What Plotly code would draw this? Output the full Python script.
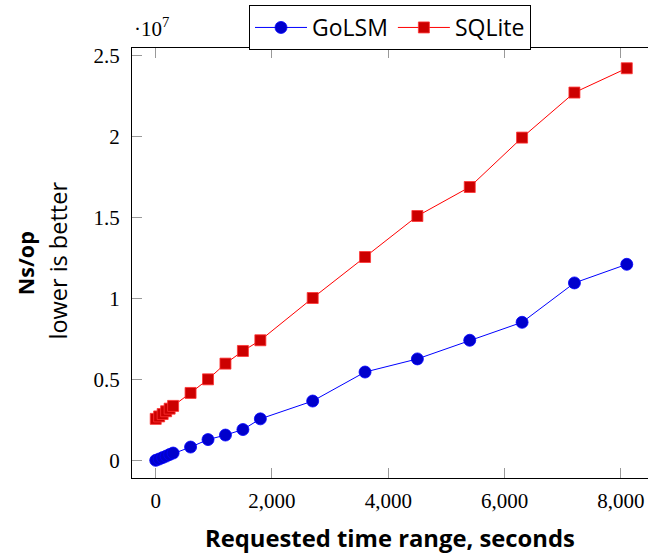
import plotly.graph_objects as go

# Requested time range (seconds)
x_seconds = [1, 60, 120, 180, 240, 300, 600, 900, 1200, 1500, 1800, 2700, 3600, 4500, 5400, 6300, 7200, 8100]

# Ns/op
golsm_ns = [40000, 120000, 210000, 300000, 400000, 490000, 860000, 1320000, 1600000, 1940000, 2600000,
            3700000, 5490000, 6300000, 7450000, 8560000, 10990000, 12140000]
sqlite_ns = [2600000, 2750000, 2900000, 3070000, 3230000, 3400000, 4200000, 5040000, 6010000, 6790000, 7450000,
             10060000, 12590000, 15120000, 16910000, 19960000, 22740000, 24240000]

x_tickvals = [0, 2000, 4000, 6000, 8000]
x_ticktext = ["0", "2,000", "4,000", "6,000", "8,000"]
y_tickvals = [0, 5e6, 1e7, 1.5e7, 2e7, 2.5e7]
y_ticktext = ["0", "0.5", "1", "1.5", "2", "2.5"]

SERIF = "Liberation Serif"
SANS = "Open Sans"

fig = go.Figure()
fig.add_trace(go.Scatter(
    x=x_seconds, y=golsm_ns, name="GoLSM", mode="lines+markers",
    line=dict(color="#0000ff", width=1),
    marker=dict(symbol="circle", size=12, color="#0000cc", line=dict(color="#0000ff", width=0.8)),
))
fig.add_trace(go.Scatter(
    x=x_seconds, y=sqlite_ns, name="SQLite", mode="lines+markers",
    line=dict(color="#ff0000", width=1),
    marker=dict(symbol="square", size=11, color="#cc0000", line=dict(color="#ff3333", width=0.8)),
))

xr = [-407, 8465]
yr = [-1.05e6, 2.549e7]

fig.update_layout(
    width=648, height=556,
    margin=dict(l=132, r=0, t=48, b=78, autoexpand=False),
    plot_bgcolor="white", paper_bgcolor="white",
    showlegend=True,
    legend=dict(
        orientation="h", x=0.5, xanchor="center", y=1.1, yanchor="top",
        bgcolor="white", bordercolor="black", borderwidth=1,
        font=dict(family=SANS, size=23, color="black"),
        itemwidth=52, tracegroupgap=0,
    ),
    xaxis=dict(
        range=xr, tickvals=x_tickvals, ticktext=x_ticktext, automargin=False,
        showgrid=False, zeroline=False,
        showline=True, linecolor="black", linewidth=1, mirror="ticks",
        ticks="inside", ticklen=10, tickcolor="#999999", tickwidth=1,
        tickfont=dict(family=SERIF, size=21, color="black"),
        ticklabelstandoff=4,
    ),
    yaxis=dict(
        range=yr, tickvals=y_tickvals, ticktext=y_ticktext, automargin=False,
        showgrid=False, zeroline=False,
        showline=True, linecolor="black", linewidth=1, mirror=False,
        ticks="inside", ticklen=10, tickcolor="#999999", tickwidth=1,
        tickfont=dict(family=SERIF, size=21, color="black"),
        ticklabelstandoff=7,
    ),
    yaxis2=dict(
        overlaying="y", side="right", matches="y", range=yr, tickvals=y_tickvals, automargin=False,
        showticklabels=False, showgrid=False, zeroline=False, showline=False,
        ticks="inside", ticklen=10, tickcolor="#999999", tickwidth=1,
    ),
    annotations=[
        dict(text="Requested time range, seconds", xref="paper", yref="paper",
             x=0.5, y=-0.139, xanchor="center", yanchor="middle", showarrow=False,
             font=dict(family=SANS, size=23.8, color="black", weight="bold")),
        dict(text="<b>Ns/op</b>", xref="paper", yref="paper", textangle=-90,
             x=-0.207, y=0.5, xanchor="center", yanchor="middle", showarrow=False,
             font=dict(family=SANS, size=21.5, color="black")),
        dict(text="lower is better", xref="paper", yref="paper", textangle=-90,
             x=-0.144, y=0.505, xanchor="center", yanchor="middle", showarrow=False,
             font=dict(family=SANS, size=23.5, color="black")),
        dict(text="·10<sup>7</sup>", xref="paper", yref="paper",
             x=0.0, y=1.012, xanchor="left", yanchor="bottom", showarrow=False,
             font=dict(family=SERIF, size=21, color="black")),
    ],
)

fig.write_html("out.html", config={"displayModeBar": False},
               post_script="document.body.style.margin='0';document.body.style.padding='0';")
